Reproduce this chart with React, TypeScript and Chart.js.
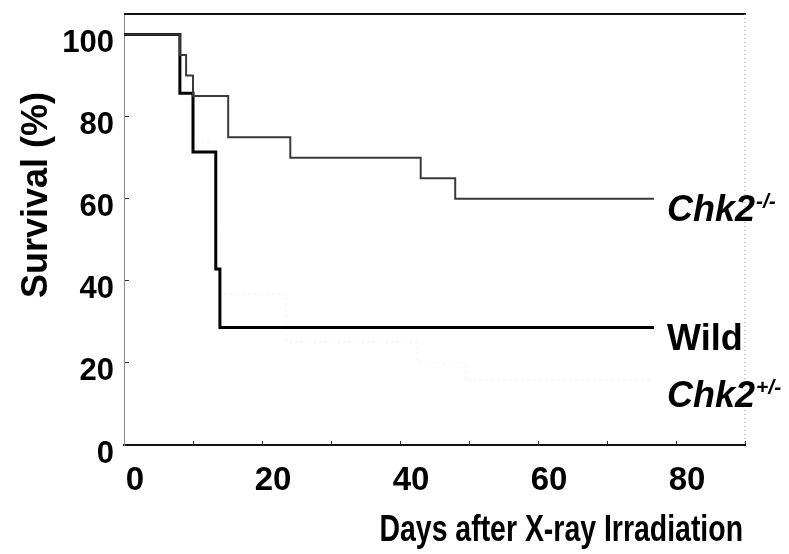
import React, { useEffect, useRef } from 'react';
import { Chart, registerables } from 'chart.js';

Chart.register(...registerables);

// ---- data ----
const xTickValues = [0, 10, 20, 30, 40, 50, 60, 70, 80, 90];
const xTickLabels = ['0', '', '20', '', '40', '', '60', '', '80', ''];
const yTickValues = [0, 20, 40, 60, 80, 100];
const yTickLabels = ['0', '20', '40', '60', '80', '100'];

const xAxisTitle = 'Days after X-ray Irradiation';
const yAxisTitle = 'Survival (%)';

const seriesBaseNames = ['Chk2', 'Wild', 'Chk2'];
const seriesSupNames = ['-/-', '', '+/-'];

const chk2KoDays = [0, 8.1, 9.0, 10.0, 15.1, 24.1, 43.0, 48.0, 76.8];
const chk2KoSurvival = [100, 95, 90, 85, 75, 70, 65, 60, 60];

const wildDays = [0, 8.1, 10.0, 13.3, 13.9, 76.8];
const wildSurvival = [100, 85.7, 71.4, 42.9, 28.6, 28.6];

const chk2HetDays = [0, 8.1, 9.0, 10.0, 12.9, 13.9, 23.5, 42.5, 49.5, 76.8];
const chk2HetSurvival = [100, 94.7, 84.2, 73.7, 52.6, 36.8, 25.0, 20.0, 15.8, 15.8];

// ---- styles ----
const FONT = '"Liberation Sans", Arial, Helvetica, sans-serif';
const lineColors = ['#3a3a3a', '#000000', '#e6e6e6'];
const lineWidths = [2, 3, 1.2];
const lineDashes: number[][] = [[], [], [1, 5]];
const labelBaselineOffsets = [22, 22, 27];

const toPoints = (xs: number[], ys: number[]) => xs.map((x, i) => ({ x, y: ys[i] }));

const framePlugin = {
  id: 'frame',
  beforeDatasetsDraw(chart: any) {
    const { ctx, chartArea } = chart;
    ctx.save();
    ctx.strokeStyle = '#111';
    ctx.lineWidth = 2;
    ctx.beginPath();
    ctx.moveTo(chartArea.left, chartArea.top);
    ctx.lineTo(chartArea.right + 1, chartArea.top);
    ctx.stroke();
    ctx.strokeStyle = '#9a9a9a';
    ctx.lineWidth = 1;
    ctx.setLineDash([1, 3]);
    ctx.beginPath();
    ctx.moveTo(chartArea.right, chartArea.top);
    ctx.lineTo(chartArea.right, chartArea.bottom);
    ctx.stroke();
    ctx.restore();
  },
};

const axisTitlePlugin = {
  id: 'axisTitles',
  afterDraw(chart: any) {
    const { ctx, chartArea } = chart;
    ctx.save();
    ctx.fillStyle = '#000';
    // x title: tall, narrow lettering, right-aligned to the plot edge
    ctx.font = `bold 36px ${FONT}`;
    ctx.textAlign = 'right';
    ctx.textBaseline = 'alphabetic';
    ctx.translate(chartArea.right - 2, chartArea.bottom + 96);
    ctx.scale(0.79, 1);
    ctx.fillText(xAxisTitle, 0, 0);
    ctx.restore();

    ctx.save();
    ctx.fillStyle = '#000';
    ctx.font = `bold 36px ${FONT}`;
    ctx.textAlign = 'center';
    ctx.textBaseline = 'middle';
    ctx.translate(chartArea.left - 87, chartArea.top + 181);
    ctx.rotate(-Math.PI / 2);
    ctx.fillText(yAxisTitle, 0, 0);
    ctx.restore();
  },
};

const endLabelPlugin = {
  id: 'endLabels',
  afterDatasetsDraw(chart: any) {
    const { ctx, chartArea, scales } = chart;
    chart.data.datasets.forEach((ds: any, i: number) => {
      const last = ds.data[ds.data.length - 1];
      const base = seriesBaseNames[i];
      const sup = seriesSupNames[i];
      const italic = sup !== '' ? 'italic ' : '';
      const x = chartArea.right - 78;
      const y = scales.y.getPixelForValue(last.y) + labelBaselineOffsets[i];
      ctx.save();
      ctx.fillStyle = '#000';
      ctx.textAlign = 'left';
      ctx.textBaseline = 'alphabetic';
      ctx.font = `${italic}bold 36px ${FONT}`;
      ctx.fillText(base, x, y);
      const w = ctx.measureText(base).width;
      if (sup) {
        ctx.font = `italic bold 21px ${FONT}`;
        ctx.fillText(sup, x + w + 1, y - 13);
      }
      ctx.restore();
    });
  },
};

export default function App() {
  const canvasRef = useRef<HTMLCanvasElement | null>(null);

  useEffect(() => {
    if (!canvasRef.current) return;
    const chart = new Chart(canvasRef.current, {
      type: 'line',
      data: {
        datasets: [
          {
            label: 'Chk2-/-',
            data: toPoints(chk2KoDays, chk2KoSurvival),
            borderColor: lineColors[0],
            borderWidth: lineWidths[0],
            borderDash: lineDashes[0],
            stepped: true,
            pointRadius: 0,
            fill: false,
          },
          {
            label: 'Wild',
            data: toPoints(wildDays, wildSurvival),
            borderColor: lineColors[1],
            borderWidth: lineWidths[1],
            borderDash: lineDashes[1],
            stepped: true,
            pointRadius: 0,
            fill: false,
          },
          {
            label: 'Chk2+/-',
            data: toPoints(chk2HetDays, chk2HetSurvival),
            borderColor: lineColors[2],
            borderWidth: lineWidths[2],
            borderDash: lineDashes[2],
            stepped: true,
            pointRadius: 0,
            fill: false,
          },
        ],
      },
      options: {
        animation: false,
        responsive: true,
        maintainAspectRatio: false,
        layout: { padding: { top: 14, right: 44, bottom: 0, left: 0 } },
        plugins: {
          legend: { display: false },
          title: { display: false },
          tooltip: { enabled: false },
        },
        scales: {
          x: {
            type: 'linear',
            min: 0,
            max: 90,
            afterBuildTicks: (axis: any) => {
              axis.ticks = xTickValues.map((v) => ({ value: v }));
            },
            afterFit: (s: any) => {
              s.height = 109;
              s.paddingLeft = 0;
              s.paddingRight = 0;
            },
            ticks: {
              autoSkip: false,
              maxRotation: 0,
              padding: 20,
              labelOffset: 11,
              color: '#000',
              font: { family: FONT, size: 33, weight: 'bold' },
              callback: (v: any) => xTickLabels[xTickValues.indexOf(Number(v))] ?? '',
            },
            grid: {
              display: true,
              drawOnChartArea: false,
              drawTicks: true,
              tickLength: -4,
              color: '#333',
              lineWidth: 1,
            },
            border: { display: true, color: '#111', width: 2 },
            title: { display: false },
          },
          y: {
            type: 'linear',
            min: 0,
            max: 105,
            afterBuildTicks: (axis: any) => {
              axis.ticks = yTickValues.map((v) => ({ value: v }));
            },
            afterFit: (s: any) => {
              s.width = 124;
              s.paddingTop = 0;
              s.paddingBottom = 0;
            },
            ticks: {
              padding: 15,
              labelOffset: 9,
              color: '#000',
              font: { family: FONT, size: 31, weight: 'bold' },
              callback: (v: any) => yTickLabels[yTickValues.indexOf(Number(v))] ?? '',
            },
            grid: {
              display: true,
              drawOnChartArea: false,
              drawTicks: true,
              tickLength: -5,
              color: '#333',
              lineWidth: 1,
            },
            border: { display: true, color: '#888', width: 1, dash: [2, 2] },
            title: { display: false },
          },
        },
      } as any,
      plugins: [framePlugin, endLabelPlugin, axisTitlePlugin],
    });
    return () => chart.destroy();
  }, []);

  return (
    <div style={{ position: 'fixed', left: 0, top: 0, width: 789, height: 554, background: '#fff' }}>
      <canvas ref={canvasRef} />
    </div>
  );
}
